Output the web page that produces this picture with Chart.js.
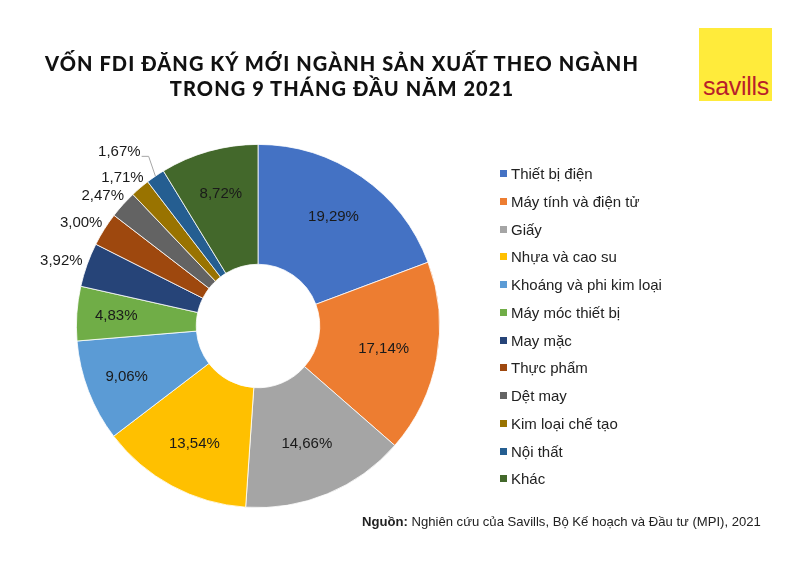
<!DOCTYPE html>
<html>
<head>
<meta charset="utf-8">
<script src="https://cdn.jsdelivr.net/npm/chart.js@4/dist/chart.umd.min.js"></script>
<style>
  body { margin: 0; background: #fff; }
  #wrap { position: relative; width: 800px; height: 566px; overflow: hidden; font-family: "Liberation Sans", Arial, sans-serif; }
  #title { position: absolute; left: 2px; top: 51px; width: 680px; text-align: center; font-family: Lato, "Open Sans", sans-serif; font-weight: 900; font-size: 20px; line-height: 25px; letter-spacing: 1.1px; color: #111; }
  #logo { position: absolute; left: 699px; top: 28px; width: 73px; height: 73px; background: #FFEB3B; }
  #logo span { position: absolute; left: 4px; bottom: 0px; font-size: 25px; color: #B81E2A; letter-spacing: -0.3px; }
  #legend { position: absolute; left: 500px; top: 160px; }
  .item { position: relative; height: 27.75px; line-height: 27.75px; font-size: 15px; color: #222; padding-left: 11px; white-space: nowrap; }
  .item i { position: absolute; left: 0; top: 10px; width: 7px; height: 7px; }
  #source { position: absolute; left: 362px; top: 514px; font-size: 13.1px; color: #222; white-space: nowrap; }
  canvas { position: absolute; left: 0; top: 0; }
</style>
</head>
<body>
<div id="wrap">
  <canvas id="chart" width="800" height="566"></canvas>
  <div id="title">VỐN FDI ĐĂNG KÝ MỚI NGÀNH SẢN XUẤT THEO NGÀNH<br>TRONG 9 THÁNG ĐẦU NĂM 2021</div>
  <div id="logo"><span>savills</span></div>
  <div id="legend"></div>
  <div id="source"><b>Nguồn:</b> Nghiên cứu của Savills, Bộ Kế hoạch và Đầu tư (MPI), 2021</div>
</div>
<script>
// dữ liệu (%)
var categories = ['Thiết bị điện', 'Máy tính và điện tử', 'Giấy', 'Nhựa và cao su',
  'Khoáng và phi kim loại', 'Máy móc thiết bị', 'May mặc', 'Thực phẩm',
  'Dệt may', 'Kim loại chế tạo', 'Nội thất', 'Khác'];
var shares = [19.29, 17.14, 14.66, 13.54, 9.06, 4.83, 3.92, 3.00, 2.47, 1.71, 1.67, 8.72];
var colors = ['#4472C4', '#ED7D31', '#A5A5A5', '#FFC000', '#5B9BD5', '#70AD47',
  '#264478', '#9E480E', '#636363', '#997300', '#255E91', '#43682B'];

// chú thích bên phải
var legend = document.getElementById('legend');
for (var i = 0; i < categories.length; i++) {
    var row = document.createElement('div');
    row.className = 'item';
    row.innerHTML = '<i style="background:' + colors[i] + '"></i>' + categories[i];
    legend.appendChild(row);
}

function fmt(v) {
    return v.toFixed(2).replace('.', ',') + '%';
}

// nhãn % trên từng lát
var sliceLabels = {
    id: 'sliceLabels',
    afterDatasetsDraw: function(chart, args, opts) {
        var ctx = chart.ctx;
        var meta = chart.getDatasetMeta(0);
        ctx.save();
        ctx.font = '15px "Liberation Sans", Arial, sans-serif';
        ctx.fillStyle = '#1a1a1a';
        ctx.textBaseline = 'middle';
        for (var i = 0; i < meta.data.length; i++) {
            var p = meta.data[i].getProps(['x', 'y', 'startAngle', 'endAngle', 'innerRadius', 'outerRadius'], true);
            var a = (p.startAngle + p.endAngle) / 2;
            var cos = Math.cos(a), sin = Math.sin(a);
            var mode = opts.modes[i];
            var txt = fmt(shares[i]);
            var x1 = p.x + p.outerRadius * cos, y1 = p.y + p.outerRadius * sin;
            ctx.textAlign = 'center';
            if (mode === 'in') {
                var r = (p.innerRadius + p.outerRadius) / 2 + 6 + Math.max(0, -cos) * 14 + Math.max(0, -sin) * 6;
                ctx.fillText(txt, p.x + r * cos, p.y + r * sin);
            } else if (mode === 'out') {
                // hộp nhãn đặt sát bên ngoài mép lát
                var hw = ctx.measureText(txt).width / 2 + 6, hh = 7 + 6;
                ctx.fillText(txt, x1 + cos * hw, y1 + sin * hh);
            } else {
                var x2 = x1 + cos * 12, y2 = y1 + sin * 24;
                ctx.strokeStyle = '#a6a6a6';
                ctx.lineWidth = 1;
                ctx.beginPath();
                ctx.moveTo(x1, y1);
                ctx.lineTo(x2, y2);
                ctx.lineTo(x2 - 7, y2);
                ctx.stroke();
                ctx.textAlign = 'right';
                ctx.fillText(txt, x2 - 8, y2 - 4);
            }
        }
        ctx.restore();
    }
};

new Chart(document.getElementById('chart'), {
    type: 'doughnut',
    data: {
        labels: categories,
        datasets: [{
            data: shares,
            backgroundColor: colors,
            borderColor: '#ffffff',
            borderWidth: 0.8
        }]
    },
    options: {
        responsive: false,
        animation: false,
        cutout: '34%',
        layout: { padding: { left: 76, right: 360, top: 144, bottom: 58 } },
        plugins: {
            legend: { display: false },
            tooltip: { enabled: false },
            sliceLabels: { modes: ['in', 'in', 'in', 'in', 'in', 'in', 'out', 'out', 'out', 'out', 'leader', 'in'] }
        }
    },
    plugins: [sliceLabels]
});
</script>
</body>
</html>
